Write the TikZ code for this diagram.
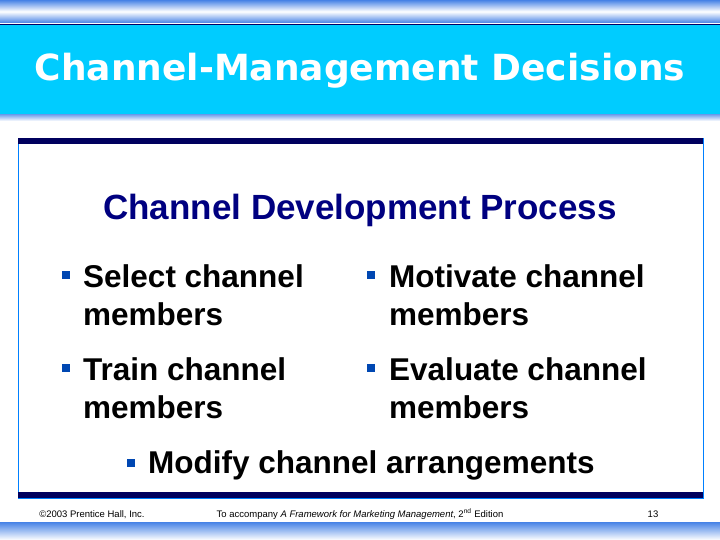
\documentclass[tikz,border=0pt]{standalone}
\usepackage{fontspec}
\setmainfont{Liberation Sans}
\newfontfamily\titlefont{DejaVu Sans}
\begin{document}
\begin{tikzpicture}[x=1pt,y=-1pt,
  bul/.style={fill=blue!60!cyan!70!black, minimum size=8pt, inner sep=0pt},
  item/.style={anchor=north west, inner sep=0pt, font=\bfseries\fontsize{31.5}{38}\selectfont, align=left},
  foot/.style={anchor=base, inner sep=0pt, font=\fontsize{9.5}{11}\selectfont}]
\useasboundingbox (0,0) rectangle (720,540);
\fill[white] (0,0) rectangle (720,540);
\definecolor{gb}{RGB}{70,130,230}
\shade[top color=gb, bottom color=gb, middle color=white] (0,0) rectangle (720,23);
\definecolor{ttl}{RGB}{0,204,255}
\fill[ttl,draw=blue!40!black, line width=0.8pt] (-1,24) rectangle (721,114);
\shade[top color=gb!70, bottom color=white] (0,115) rectangle (720,121);
\node (title) [text=white, font=\titlefont\bfseries\fontsize{36}{40}\selectfont] at (360,71) {Channel-Management Decisions};
\draw[blue!50!cyan, fill=white] (18,138) rectangle (703,498);
\fill[blue!30!black!90!blue] (18,138) rectangle (703,144);
\fill[blue!30!black!90!blue] (18,492) rectangle (703,498);
\definecolor{navy}{RGB}{0,0,128}
\node (sub) [text=navy, font=\bfseries\fontsize{35}{40}\selectfont, anchor=base] at (360,219) {Channel Development Process};
\node[bul] (b1) at (66,275) {}; \node[item] (t1) at (83,264) {Select channel\\members};
\node[bul] (b2) at (371,275) {}; \node[item] (t2) at (389,264) {Motivate channel\\members};
\node[bul] (b3) at (66,368) {}; \node[item] (t3) at (83,357) {Train channel\\members};
\node[bul] (b4) at (371,368) {}; \node[item] (t4) at (389,357) {Evaluate channel\\members};
\node[bul] (b5) at (131,463) {}; \node[item] (t5) at (148,450) {Modify channel arrangements};
\node[foot] (f1) at (92,517) {©2003 Prentice Hall, Inc.};
\node[foot] (f2) at (360,517) {To accompany \textit{A Framework for Marketing Management}, 2\textsuperscript{nd} Edition};
\node[foot] (f3) at (653,517) {13};
\shade[top color=gb, bottom color=white] (0,522) rectangle (720,540);
\end{tikzpicture}
\end{document}
